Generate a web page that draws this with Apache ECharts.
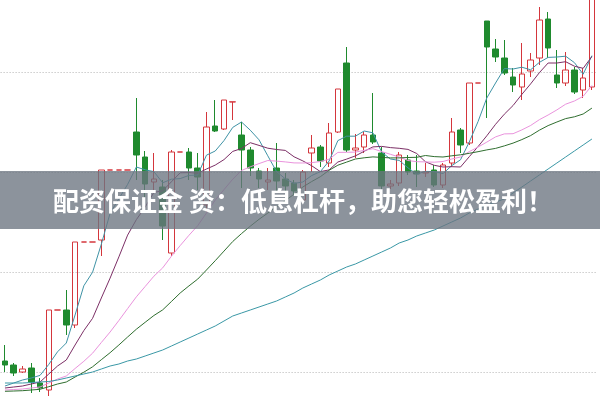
<!DOCTYPE html>
<html>
<head>
<meta charset="utf-8">
<script src="https://cdn.jsdelivr.net/npm/echarts@6/dist/echarts.min.js"></script>
<style>
html,body{margin:0;padding:0;background:#fff;}
#chart{width:600px;height:400px;}
</style>
</head>
<body>
<div id="chart"></div>
<script>
// Candles: [open, close, low, high]
const candles = [
  [11.10,10.70,10.00,12.70],[10.70,9.90,9.60,10.90],[10.00,10.30,9.90,10.60],[10.40,9.00,7.90,10.90],
  [8.90,8.40,8.00,9.40],[8.20,16.20,7.60,16.20],[16.20,16.20,16.20,16.20],[16.20,14.70,13.70,18.20],
  [14.70,23.00,14.40,23.00],[23.00,23.00,23.00,23.00],[23.00,23.00,23.00,23.00],[23.20,30.20,21.60,30.20],
  [30.20,30.20,30.20,30.20],[30.20,30.20,30.20,30.20],[30.20,30.20,30.20,30.20],[34.00,31.70,29.20,37.40],
  [31.50,28.80,26.70,32.10],[29.00,29.30,28.20,31.90],[28.50,24.60,23.20,29.20],[21.90,32.00,21.60,32.20],
  [32.00,32.00,32.00,32.00],[32.00,30.40,29.20,32.40],[30.40,29.50,28.20,31.90],[26.70,34.50,26.00,36.00],
  [34.60,34.10,34.00,37.20],[34.30,37.20,34.20,37.20],[37.00,37.02,35.20,37.02],[33.70,32.20,28.40,35.00],
  [32.20,30.40,29.60,32.50],[30.10,29.30,28.40,30.40],[29.00,29.20,28.20,30.40],[30.40,29.10,27.90,32.90],
  [29.30,28.60,28.00,29.90],[28.90,28.10,27.70,29.20],[27.20,30.00,26.90,30.20],[31.90,32.40,30.00,33.70],
  [32.50,31.10,30.50,32.70],[30.90,33.90,30.50,34.90],[34.00,38.30,33.90,38.30],[40.90,32.20,32.00,42.50],
  [32.20,32.40,31.40,33.80],[32.50,33.70,31.90,34.00],[33.70,33.00,32.80,37.90],[31.90,28.60,28.20,32.50],
  [28.60,28.80,28.30,29.20],[28.90,31.70,28.60,32.00],[31.20,30.00,29.70,31.70],[30.10,29.80,28.50,31.70],
  [29.90,30.00,29.50,30.90],[30.20,28.70,28.50,30.70],[28.70,30.70,28.40,30.90],[30.90,34.00,30.50,35.40],
  [34.20,32.70,31.90,34.40],[32.90,38.90,32.70,38.90],[38.90,38.90,38.90,38.90],[45.10,42.50,35.40,45.10],
  [42.30,41.50,41.00,43.30],[41.40,39.90,39.70,43.20],[39.50,38.70,38.00,40.40],[38.50,39.80,37.20,42.90],
  [40.10,41.20,39.50,41.90],[41.40,45.20,40.70,46.50],[45.30,42.40,41.40,46.00],[39.70,38.90,38.40,42.20],
  [38.90,40.20,38.60,42.00],[40.20,38.00,37.80,40.50],[38.20,39.40,37.40,40.40],[38.50,51.70,38.20,52.20]
];
const ma5 = [8.60,8.90,9.20,9.40,9.66,10.76,12.02,12.90,15.70,18.62,19.98,22.78,25.88,27.32,28.76,30.50,30.22,30.04,28.92,29.28,29.34,29.66,29.70,31.68,32.10,33.14,34.46,35.00,34.18,33.22,31.62,30.04,29.32,28.86,29.00,29.64,30.04,31.10,33.14,33.58,33.58,34.10,33.92,31.98,31.30,31.16,30.42,29.78,30.06,30.04,29.84,30.64,31.22,33.00,35.04,37.40,38.90,40.34,40.30,40.48,40.22,40.96,41.46,41.50,41.58,40.94,39.78,41.64];
const ma10 = [8.40,8.50,8.60,8.80,9.00,9.80,10.60,11.20,12.70,14.14,15.37,17.40,19.39,21.51,23.69,25.24,26.50,27.96,28.12,29.02,29.92,29.94,29.87,30.30,30.69,31.24,32.06,32.35,32.93,32.66,32.38,32.25,32.16,31.52,31.11,30.63,30.04,30.21,31.00,31.29,31.61,32.07,32.51,32.56,32.44,32.37,32.26,31.85,31.02,30.67,30.50,30.53,30.50,31.53,32.54,33.62,34.77,35.78,36.65,37.76,38.81,39.93,40.90,40.90,41.03,40.58,40.37,41.55];
const ma20 = [8.20,8.25,8.30,8.40,8.50,8.90,9.30,9.60,10.35,11.07,11.88,12.95,14.00,15.15,16.34,17.52,18.55,19.58,20.41,21.58,22.64,23.67,24.63,25.90,27.19,28.24,29.28,30.15,30.52,30.84,31.15,31.09,31.01,30.91,30.90,30.93,31.05,31.28,31.96,31.97,31.99,32.16,32.33,32.04,31.77,31.50,31.15,31.03,31.01,30.98,31.05,31.30,31.50,32.04,32.49,32.99,33.51,33.81,33.83,34.21,34.65,35.23,35.70,36.21,36.78,37.10,37.57,38.66];
const ma30 = [8.07,8.10,8.13,8.20,8.27,8.53,8.80,9.00,9.50,9.98,10.52,11.23,11.93,12.70,13.50,14.28,14.97,15.65,16.21,17.05,17.90,18.61,19.29,20.20,21.13,22.09,23.05,23.84,24.58,25.27,25.89,26.53,27.14,27.78,28.50,29.04,29.53,30.17,30.68,30.99,31.30,31.42,31.51,31.46,31.41,31.41,31.45,31.47,31.65,31.54,31.50,31.62,31.72,31.87,32.03,32.21,32.36,32.61,32.89,33.24,33.64,34.18,34.64,35.00,35.34,35.52,35.80,36.39];
const ma60 = [8.90,8.90,8.90,8.95,9.00,9.05,9.20,9.40,9.60,9.80,10.00,10.30,10.60,10.80,11.10,11.30,11.60,11.90,12.20,12.60,13.00,13.40,13.80,14.20,14.60,15.10,15.60,15.90,16.20,16.50,16.80,17.10,17.50,17.90,18.40,18.80,19.20,19.70,20.10,20.50,20.80,21.20,21.60,22.00,22.40,22.90,23.20,23.60,23.90,24.20,24.60,25.00,25.40,25.90,26.30,26.70,27.00,27.30,27.90,28.50,29.10,29.70,30.30,30.90,31.50,32.10,32.70,33.30];
const gridLevels = [10, 20, 30, 40];
const categories = candles.map((_, i) => 'D' + (i + 1));
const bannerText = '配资保证金 资：低息杠杆，助您轻松盈利！';

const chart = echarts.init(document.getElementById('chart'), null, {renderer: 'canvas'});
function maLine(name, data, color) {
  return {name, type: 'line', data, symbol: 'none', smooth: false, z: 3,
    lineStyle: {width: 1, color}, itemStyle: {color}, animation: false};
}
chart.setOption({
  animation: false,
  backgroundColor: '#ffffff',
  grid: {left: 0.6, right: 3.7, top: 0, bottom: 0, containLabel: false},
  xAxis: {type: 'category', data: categories, boundaryGap: true,
    axisLine: {show: false}, axisTick: {show: false}, axisLabel: {show: false}, splitLine: {show: false}},
  yAxis: {type: 'value', min: 7.2, max: 47.2, scale: true,
    axisLine: {show: false}, axisTick: {show: false}, axisLabel: {show: false},
    splitLine: {show: false}},
  series: [
    {type: 'candlestick', data: candles, barWidth: 6, z: 2,
      itemStyle: {color: 'rgba(255,255,255,0)', color0: '#1f8a2e', borderColor: '#d4363c', borderColor0: '#1f8a2e', borderWidth: 1},
      markLine: {silent: true, symbol: ['none', 'none'], animation: false, z: 1,
        label: {show: false},
        lineStyle: {color: '#b4b4b4', width: 1, type: [1, 2]},
        emphasis: {disabled: true},
        data: gridLevels.map(v => ({yAxis: v}))}},
    maLine('MA5', ma5, '#3f93a6'),
    maLine('MA10', ma10, '#7c2f66'),
    maLine('MA20', ma20, '#ea93dd'),
    maLine('MA30', ma30, '#2f6e2f'),
    maLine('MA60', ma60, '#3a98a6')
  ],
  graphic: [
    {type: 'rect', z: 100, shape: {x: 0, y: 171, width: 600, height: 58},
      style: {fill: 'rgba(108,116,128,0.78)'}},
    {type: 'text', z: 101, x: 303, y: 201,
      style: {text: bannerText, fill: '#ffffff', align: 'center', verticalAlign: 'middle',
        font: 'bold 26px "Noto Sans CJK SC", sans-serif'}}
  ]
});
</script>
</body>
</html>
